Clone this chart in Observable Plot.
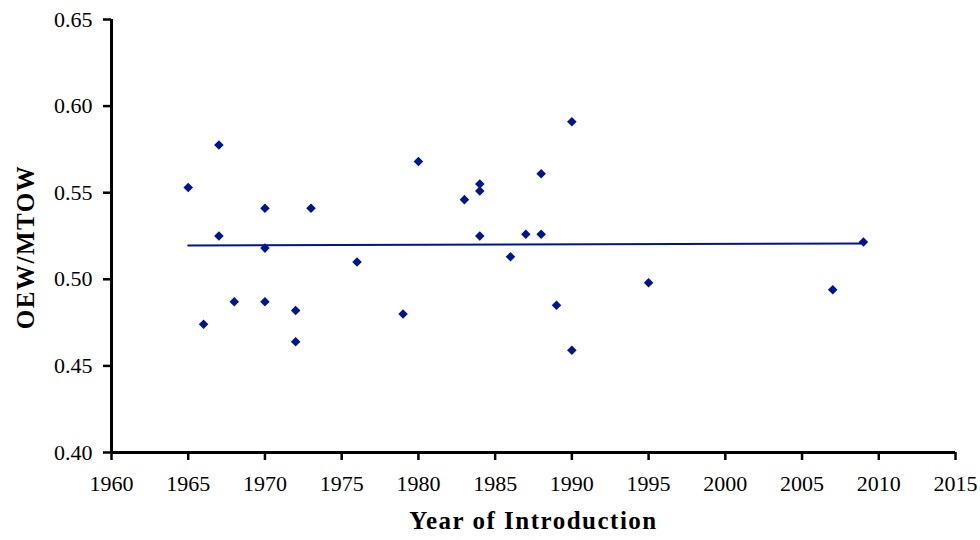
<!DOCTYPE html>
<html>
<head>
<meta charset="utf-8">
<script src="https://cdn.jsdelivr.net/npm/d3@7"></script>
<script src="https://cdn.jsdelivr.net/npm/@observablehq/plot@0.6"></script>
<style>
  html, body { margin: 0; padding: 0; background: #fff; }
  #chart { width: 980px; height: 540px; }
</style>
</head>
<body>
<div id="chart"></div>
<script>
// Data
const years = [1965, 1966, 1967, 1967, 1968, 1970, 1970, 1970, 1972, 1972, 1973, 1976, 1979, 1980,
               1983, 1984, 1984, 1984, 1986, 1987, 1988, 1988, 1989, 1990, 1990, 1995, 2007, 2009];
const ratios = [0.553, 0.474, 0.5775, 0.525, 0.487, 0.541, 0.518, 0.487, 0.482, 0.464, 0.541, 0.510, 0.480, 0.568,
                0.546, 0.555, 0.551, 0.525, 0.513, 0.526, 0.561, 0.526, 0.485, 0.591, 0.459, 0.498, 0.494, 0.5215];
const xTicks = [1960, 1965, 1970, 1975, 1980, 1985, 1990, 1995, 2000, 2005, 2010, 2015];
const yTicks = [0.40, 0.45, 0.50, 0.55, 0.60, 0.65];
const xTitle = ["Year of Introduction"];
const yTitle = ["OEW/MTOW"];

const data = years.map((yr, i) => ({year: yr, ratio: ratios[i]}));
const blue = "#00168c";
const font = "'Liberation Serif', 'DejaVu Serif', serif";

const chart = Plot.plot({
  width: 980,
  height: 540,
  marginLeft: 111,
  marginRight: 25,
  marginTop: 19,
  marginBottom: 88,
  style: {fontFamily: font, fontSize: "22px", background: "#fff", color: "black"},
  x: {domain: [1960, 2015]},
  y: {domain: [0.40, 0.65]},
  marks: [
    Plot.axisX({ticks: xTicks, tickFormat: d => String(d), tickSize: 8, tickPadding: 15,
                fontSize: 22, color: "black", strokeWidth: 2.5, label: null}),
    Plot.axisY({ticks: yTicks, tickFormat: d3.format(".2f"), tickSize: 8, tickPadding: 11,
                fontSize: 22, color: "black", strokeWidth: 2.5, label: null}),
    Plot.ruleY([yTicks[0]], {stroke: "black", strokeWidth: 3}),
    Plot.ruleX([xTicks[0]], {stroke: "black", strokeWidth: 3}),
    Plot.linearRegressionY(data, {x: "year", y: "ratio", stroke: blue, strokeWidth: 2, ci: 0}),
    Plot.dot(data, {x: "year", y: "ratio", symbol: "diamond2", r: 4.3, fill: blue, stroke: "none"}),
    Plot.text(xTitle, {frameAnchor: "bottom", dy: 76, text: d => d, fontSize: 25,
                       fontWeight: "bold", fill: "black"}),
    Plot.text(yTitle, {frameAnchor: "left", textAnchor: "middle", lineAnchor: "middle", dx: -86, dy: 11,
                       rotate: -90, text: d => d, fontSize: 25, fontWeight: "bold", fill: "black"})
  ]
});
chart.querySelectorAll("text").forEach(t => {
  if (t.textContent === xTitle[0] || t.textContent === yTitle[0]) t.style.letterSpacing = "1.5px";
});
document.getElementById("chart").appendChild(chart);
</script>
</body>
</html>
